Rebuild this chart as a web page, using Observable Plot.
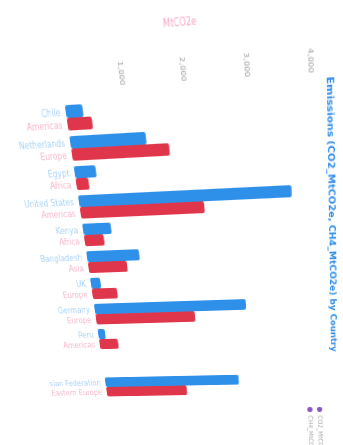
<!DOCTYPE html>
<html>
<head>
<meta charset="utf-8">
<script src="https://cdn.jsdelivr.net/npm/d3@7"></script>
<script src="https://cdn.jsdelivr.net/npm/@observablehq/plot@0.6"></script>
<style>
  html, body { margin: 0; padding: 0; background: #fff; overflow: hidden; width: 343px; height: 445px; }
  #fig { position: absolute; left: 0; top: 0; width: 445px; height: 343px; background: #fff;
         font-family: "DejaVu Sans", sans-serif; transform-origin: 0 0; }
  #title { position: absolute; left: 0; top: 8px; width: 100%; text-align: center; white-space: nowrap;
           font-size: 9px; font-weight: bold; color: #2d8de8; }
  #legend { position: absolute; left: 412px; top: 24px; font-size: 7px; color: #a8a8a8; }
  .item { display: flex; align-items: center; height: 11px; white-space: nowrap; }
  .dot { width: 6px; height: 6px; border-radius: 50%; background: #8c55c8; margin-right: 4px; }
  #ylabel { position: absolute; left: 43px; top: 153px; transform: translate(-50%, -50%) rotate(-90deg);
            font-size: 8px; color: #f5a6c6; white-space: nowrap; }
  #chart { position: absolute; left: 0; top: 0; }
</style>
</head>
<body>
<div id="fig">
  <div id="chart"></div>
  <div id="title"></div>
  <div id="legend"></div>
  <div id="ylabel"></div>
</div>
<script>
// Emissions by country, two series per country
const countries = ["Chile", "Netherlands", "Egypt", "United States", "Kenya", "Bangladesh",
                   "UK", "Germany", "Peru", "Norway", "Russian Federation"];
const regions   = ["Americas", "Europe", "Africa", "Americas", "Africa", "Asia",
                   "Europe", "Europe", "Americas", "Europe", "Eastern Europe"];
const seriesNames = ["CO2_MtCO2e", "CH4_MtCO2e"];
const co2 = [290, 1280, 370, 3620, 500, 940, 180, 2750, 130, null, 2530];
const ch4 = [420, 1650, 220, 2150, 350, 700, 460, 1820, 350, null, 1540];
const yTicks = [1000, 2000, 3000, 4000];

const titleText = "Emissions (CO2_MtCO2e, CH4_MtCO2e) by Country";
const yLabelText = "MtCO2e";

const seriesColors = ["#2e90e8", "#e0364b"];
const labelColors  = ["#a9d3f5", "#f6b7c9"];

const rows = countries.flatMap((c, i) => [
  {country: c, region: regions[i], series: seriesNames[0], value: co2[i]},
  {country: c, region: regions[i], series: seriesNames[1], value: ch4[i]}
]).filter(d => d.value != null);

const chart = Plot.plot({
  width: 445,
  height: 343,
  marginTop: 30,
  marginBottom: 67,
  marginLeft: 100,
  marginRight: 45,
  style: {fontFamily: "DejaVu Sans, sans-serif", fontSize: "7px", color: "#a0a0a0", background: "transparent"},
  fx: {domain: countries, padding: 0.1, axis: null},
  x: {domain: seriesNames, padding: 0.04, axis: null},
  y: {domain: [0, 4000], axis: null},
  color: {domain: seriesNames, range: seriesColors},
  marks: [
    // value axis only on the leftmost facet
    Plot.axisY({ticks: yTicks, tickFormat: d3.format(","), tickSize: 0, tickPadding: 13, label: null, facetAnchor: "left"}),
    Plot.barY(rows, {fx: "country", x: "series", y: "value", fill: "series", rx: 2}),
    Plot.text(rows.filter(d => d.series === seriesNames[0]),
      {fx: "country", x: "series", y: 0, text: "country", rotate: -90, textAnchor: "end",
       dy: 5, fill: labelColors[0], fontSize: 8}),
    Plot.text(rows.filter(d => d.series === seriesNames[1]),
      {fx: "country", x: "series", y: 0, text: "region", rotate: -90, textAnchor: "end",
       dy: 5, fill: labelColors[1], fontSize: 8})
  ]
});
document.getElementById("chart").append(chart);
document.getElementById("title").textContent = titleText;
document.getElementById("ylabel").textContent = yLabelText;
const legend = document.getElementById("legend");
for (const s of seriesNames) {
  const item = document.createElement("div");
  item.className = "item";
  item.innerHTML = `<span class="dot"></span><span>${s}</span>`;
  legend.append(item);
}

// Place the figure on the page with a projective transform fitted to four anchors
function homography(src, dst) {
  const A = [], b = [];
  for (let i = 0; i < 4; i++) {
    const [x, y] = src[i], [X, Y] = dst[i];
    A.push([x, y, 1, 0, 0, 0, -x * X, -y * X]); b.push(X);
    A.push([0, 0, 0, x, y, 1, -x * Y, -y * Y]); b.push(Y);
  }
  const n = 8;
  for (let c = 0; c < n; c++) {
    let p = c;
    for (let r = c + 1; r < n; r++) if (Math.abs(A[r][c]) > Math.abs(A[p][c])) p = r;
    [A[c], A[p]] = [A[p], A[c]]; [b[c], b[p]] = [b[p], b[c]];
    for (let r = 0; r < n; r++) {
      if (r === c) continue;
      const f = A[r][c] / A[c][c];
      for (let k = c; k < n; k++) A[r][k] -= f * A[c][k];
      b[r] -= f * b[c];
    }
  }
  return b.map((v, i) => v / A[i][i]);
}
const fx = chart.scale("fx"), ys = chart.scale("y");
const c0 = fx.apply(countries[0]) + fx.bandwidth / 2;
const c1 = fx.apply(countries[countries.length - 1]) + fx.bandwidth / 2;
const v0 = ys.apply(0), v4 = ys.apply(4000);
const h = homography(
  [[c0, v0], [c1, v0], [c0, v4], [c1, v4]],
  [[66.6, 118], [106, 387], [312.6, 103], [319, 383]]
);
const m = [h[0], h[3], 0, h[6], h[1], h[4], 0, h[7], 0, 0, 1, 0, h[2], h[5], 0, 1];
document.getElementById("fig").style.transform = `matrix3d(${m.join(",")})`;
</script>
</body>
</html>
